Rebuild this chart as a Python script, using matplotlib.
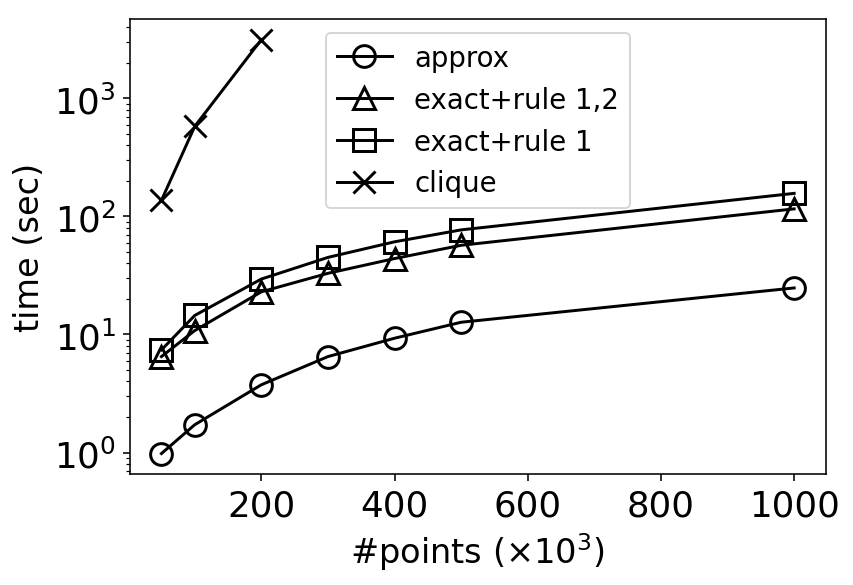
import matplotlib
matplotlib.use("Agg")
import matplotlib.pyplot as plt

points = [50, 100, 200, 300, 400, 500, 1000]
approx = [0.98, 1.72, 3.75, 6.5, 9.3, 12.7, 24.8]
exact_rule12 = [6.5, 10.8, 23, 33, 44, 57, 116]
exact_rule1 = [7.4, 14.5, 29.5, 45, 61, 77, 157]
clique_points = [50, 100, 200]
clique = [137, 580, 3150]

plt.figure(figsize=(6, 4.117), dpi=142.33)
style = dict(color='k', linewidth=1.5, markersize=11, markeredgewidth=1.5,
             fillstyle='none')
plt.plot(points, approx, marker='o', label='approx', **style)
plt.plot(points, exact_rule12, marker='^', label='exact+rule 1,2', **style)
plt.plot(points, exact_rule1, marker='s', label='exact+rule 1', **style)
plt.plot(clique_points, clique, marker='x', label='clique', **style)

plt.yscale('log')
plt.xlabel(r'#points ($\times 10^3$)', fontsize=17)
plt.ylabel('time (sec)', fontsize=17)
plt.xticks([200, 400, 600, 800, 1000], fontsize=18)
plt.yticks(fontsize=18)
plt.legend(loc='upper center', fontsize=14)
plt.subplots_adjust(left=0.152, right=0.967, top=0.966, bottom=0.189)
plt.savefig('out.png')
